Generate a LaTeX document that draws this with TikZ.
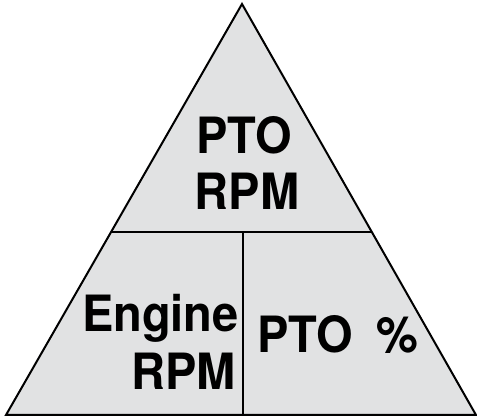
\documentclass[tikz,border=0pt]{standalone}
\usepackage{fontspec}
\setmainfont{TeX Gyre Heros}
\newfontfamily\labelfont[FakeStretch=0.94]{TeX Gyre Heros}
\definecolor{panelgray}{HTML}{E1E2E3}
\begin{document}
\begin{tikzpicture}[x=1pt,y=-1pt,
  outline/.style={draw=black,line width=2pt,fill=panelgray,line join=miter},
  divider/.style={draw=black,line width=1.4pt},
  label/.style={inner sep=0pt,font=\labelfont\bfseries\fontsize{50}{56}\selectfont}]
\useasboundingbox (0,0) rectangle (477,419);
% corner points of the triangle
\coordinate (apex) at (242,4);
\coordinate (bl) at (6,415);
\coordinate (br) at (476,415);
\draw[outline] (apex) -- (bl) -- (br) -- cycle;
% dividing lines
\coordinate (hl) at (111,232);
\coordinate (hr) at (372,232);
\coordinate (vt) at (243,232);
\coordinate (vb) at (243,415);
\draw[divider] (hl) -- (hr);
\draw[divider] (vt) -- (vb);
% labels
\node[label,anchor=base] (pto) at (244,154) {PTO};
\node[label,anchor=base] (rpm) at (247,210) {RPM};
\node[label,anchor=base east] (engine) at (239,332) {Engine};
\node[label,anchor=base east] (erpm) at (236,390) {RPM};
\node[label,anchor=base west] (pct) at (257,353) {PTO\hspace{11pt} \%};
\end{tikzpicture}
\end{document}
